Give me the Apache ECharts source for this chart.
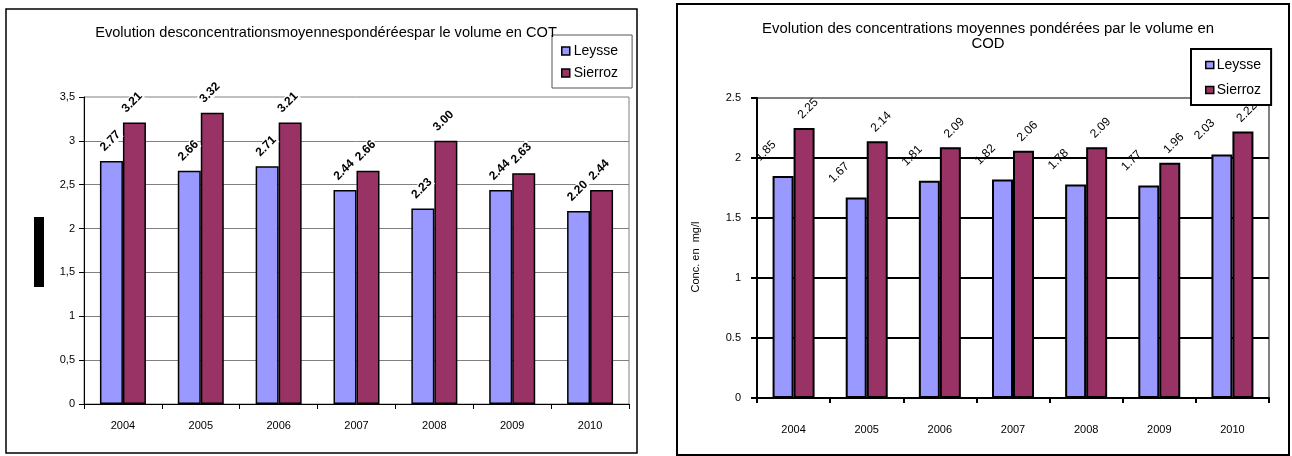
<!DOCTYPE html>
<html>
<head>
<meta charset="utf-8">
<script src="https://cdn.jsdelivr.net/npm/echarts@6/dist/echarts.min.js"></script>
<style>
html,body{margin:0;padding:0;background:#fff;}
#c{width:1292px;height:456px;}
</style>
</head>
<body>
<div id="c"></div>
<script>
const years = ['2004','2005','2006','2007','2008','2009','2010'];
const seriesNames = ['Leysse','Sierroz'];
const cotLeysse = [2.77, 2.66, 2.71, 2.44, 2.23, 2.44, 2.20];
const cotSierroz = [3.21, 3.32, 3.21, 2.66, 3.00, 2.63, 2.44];
const codLeysse = [1.85, 1.67, 1.81, 1.82, 1.78, 1.77, 2.03];
const codSierroz = [2.25, 2.14, 2.09, 2.06, 2.09, 1.96, 2.22];
const titleCOT = 'Evolution desconcentrationsmoyennespondéréespar le volume en COT';
const titleCOD = 'Evolution des concentrations moyennes pondérées par le volume en\nCOD';
const yNameCOD = 'Conc. en  mg/l';

const FONT = 'Liberation Sans';
const C_LEY = '#9999FF';
const C_SIE = '#993366';

const chart = echarts.init(document.getElementById('c'), null, {renderer:'canvas'});

function cotLabel(off) {
  return {show:true, position:'top', rotate:45, align:'left', verticalAlign:'middle',
    distance:4, offset:off, fontFamily:FONT, fontSize:12, fontWeight:'bold', color:'#000',
    backgroundColor:'#fff', padding:[0,1],
    formatter: p => p.value.toFixed(2)};
}
function codLabel(off) {
  return {show:true, position:'top', rotate:45, align:'left', verticalAlign:'middle',
    distance:4, offset:off, fontFamily:FONT, fontSize:12, color:'#000',
    formatter: p => String(p.value)};
}

const option = {
  backgroundColor:'#fff',
  animation:false,
  title:[
    {text:titleCOT, left:321, top:20, textAlign:'center',
     textStyle:{fontFamily:FONT, fontSize:14.6, fontWeight:'normal', color:'#000'}},
    {text:titleCOD, left:983, top:16, textAlign:'center',
     textStyle:{fontFamily:FONT, fontSize:14.9, fontWeight:'normal', color:'#000', lineHeight:15}}
  ],
  legend:[
    {data:seriesNames, orient:'vertical', left:552, top:35, padding:[9,14,8,9], itemGap:8,
     itemWidth:8, itemHeight:8, icon:'rect', backgroundColor:'#fff', borderColor:'#555', borderWidth:1,
     itemStyle:{borderColor:'#000', borderWidth:1.5},
     textStyle:{fontFamily:FONT, fontSize:14, color:'#000', padding:[0,0,0,-1]}},
    {data:seriesNames, orient:'vertical', left:1191, top:49, padding:[9,10,8,14], itemGap:11,
     itemWidth:8, itemHeight:7, icon:'rect', backgroundColor:'#fff', borderColor:'#000', borderWidth:2,
     itemStyle:{borderColor:'#000', borderWidth:1.5},
     textStyle:{fontFamily:FONT, fontSize:14, color:'#000', padding:[0,0,0,-2]}}
  ],
  grid:[
    {left:84, top:97, width:545, height:307, show:true, borderColor:'#808080', borderWidth:1, backgroundColor:'transparent', containLabel:false},
    {left:757, top:98, width:512, height:300, show:true, borderColor:'#808080', borderWidth:2, backgroundColor:'transparent', containLabel:false}
  ],
  xAxis:[
    {type:'category', gridIndex:0, data:years, boundaryGap:true,
     axisLine:{show:true, lineStyle:{color:'#000', width:1}},
     axisTick:{show:true, length:5, lineStyle:{color:'#000'}},
     axisLabel:{fontFamily:FONT, fontSize:11, color:'#000', margin:16}},
    {type:'category', gridIndex:1, data:years, boundaryGap:true,
     axisLine:{show:true, lineStyle:{color:'#000', width:2}},
     axisTick:{show:true, length:5, lineStyle:{color:'#000', width:2}},
     axisLabel:{fontFamily:FONT, fontSize:11, color:'#000', margin:26}}
  ],
  yAxis:[
    {type:'value', gridIndex:0, min:0, max:3.5, interval:0.5,
     axisLine:{show:true, lineStyle:{color:'#000', width:1}},
     axisTick:{show:true, length:5, lineStyle:{color:'#000'}},
     splitLine:{show:true, showMaxLine:false, lineStyle:{color:'#808080', width:1}},
     axisLabel:{fontFamily:FONT, fontSize:11, color:'#000', margin:9,
       formatter: v => String(v).replace('.', ',')}},
    {type:'value', gridIndex:1, min:0, max:2.5, interval:0.5,
     name:yNameCOD, nameLocation:'middle', nameRotate:90, nameGap:56,
     nameTextStyle:{fontFamily:FONT, fontSize:11, color:'#000', padding:[0,18,0,0]},
     axisLine:{show:true, lineStyle:{color:'#000', width:2}},
     axisTick:{show:true, length:6, lineStyle:{color:'#000', width:2}},
     splitLine:{show:true, showMaxLine:false, lineStyle:{color:'#000', width:2}},
     axisLabel:{fontFamily:FONT, fontSize:11, color:'#000', margin:16,
       formatter: v => String(v)}}
  ],
  series:[
    {name:'Leysse', type:'bar', xAxisIndex:0, yAxisIndex:0, data:cotLeysse, barWidth:23, barGap:'0%',
     itemStyle:{color:C_LEY, borderColor:'#000', borderWidth:1.5}, label:cotLabel([-2,-12])},
    {name:'Sierroz', type:'bar', xAxisIndex:0, yAxisIndex:0, data:cotSierroz, barWidth:23, barGap:'0%',
     itemStyle:{color:C_SIE, borderColor:'#000', borderWidth:1.5}, label:cotLabel([-3,-13])},
    {name:'Leysse', type:'bar', xAxisIndex:1, yAxisIndex:1, data:codLeysse, barWidth:21, barGap:'0%',
     itemStyle:{color:C_LEY, borderColor:'#000', borderWidth:2}, label:codLabel([-9,-27])},
    {name:'Sierroz', type:'bar', xAxisIndex:1, yAxisIndex:1, data:codSierroz, barWidth:21, barGap:'0%',
     itemStyle:{color:C_SIE, borderColor:'#000', borderWidth:2}, label:codLabel([2,-8])}
  ],
  graphic:[
    {type:'rect', silent:true, z:-1, shape:{x:6, y:9, width:631, height:444},
     style:{fill:'none', stroke:'#000', lineWidth:1.5}},
    {type:'rect', silent:true, z:-1, shape:{x:677, y:4, width:612, height:451},
     style:{fill:'none', stroke:'#000', lineWidth:2}},
    {type:'rect', silent:true, shape:{x:34, y:217, width:10, height:70},
     style:{fill:'#000'}}
  ]
};
chart.setOption(option);
</script>
</body>
</html>
